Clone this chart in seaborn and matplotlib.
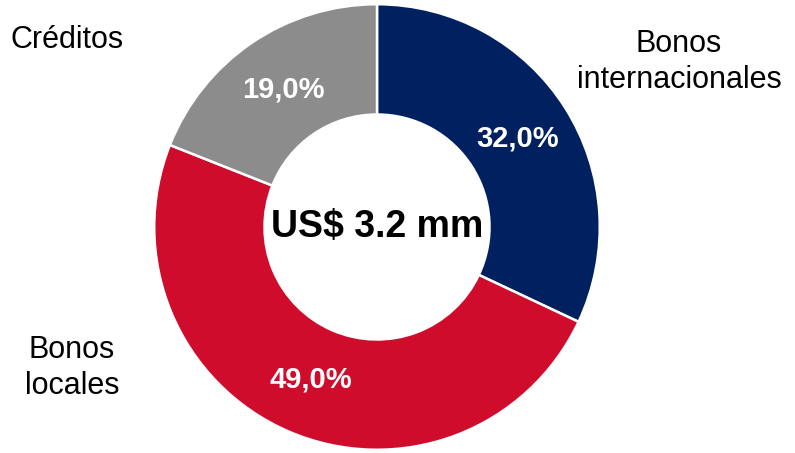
import matplotlib
matplotlib.use("Agg")
import matplotlib.pyplot as plt
import seaborn as sns

# data
categories = ["Bonos\ninternacionales", "Bonos\nlocales", "Créditos"]
shares = [32.0, 49.0, 19.0]
colors = ["#002060", "#D00C2C", "#8C8C8C"]
center_label = "US$ 3.2 mm"

sns.set_theme(style="white")
plt.rcParams["font.family"] = ["Liberation Sans", "DejaVu Sans"]

W, H = 795, 453
fig = plt.figure(figsize=(W / 100, H / 100), dpi=100)

# square axes placed so the donut sits where it does in the reference
cx, cy, R = 377, 227, 225
ax = fig.add_axes([(cx - R) / W, (H - cy - R) / H, 2 * R / W, 2 * R / H])

wedges, texts, autotexts = ax.pie(
    shares,
    colors=colors,
    startangle=90,
    counterclock=False,
    radius=1.0,
    autopct=lambda p: f"{p:.1f}%".replace(".", ","),
    pctdistance=0.745,
    wedgeprops=dict(width=0.495, edgecolor="white", linewidth=1.8),
    textprops=dict(color="white", fontsize=21, fontweight="bold"),
)
ax.set_xlim(-1.01, 1.01)
ax.set_ylim(-1.01, 1.01)
ax.set_aspect("equal")
ax.axis("off")

ax.text(0, 0, center_label, ha="center", va="center",
        fontsize=27, fontweight="bold", color="black")

# outside category labels
label_pos = [(679, 62, "center"), (72, 368, "center"), (10, 40, "left")]
for name, (px, py, ha) in zip(categories, label_pos):
    fig.text(px / W, 1 - py / H, name, ha=ha, va="center",
             fontsize=22, color="black", linespacing=1.3)

fig.savefig("out.png", dpi=100)
